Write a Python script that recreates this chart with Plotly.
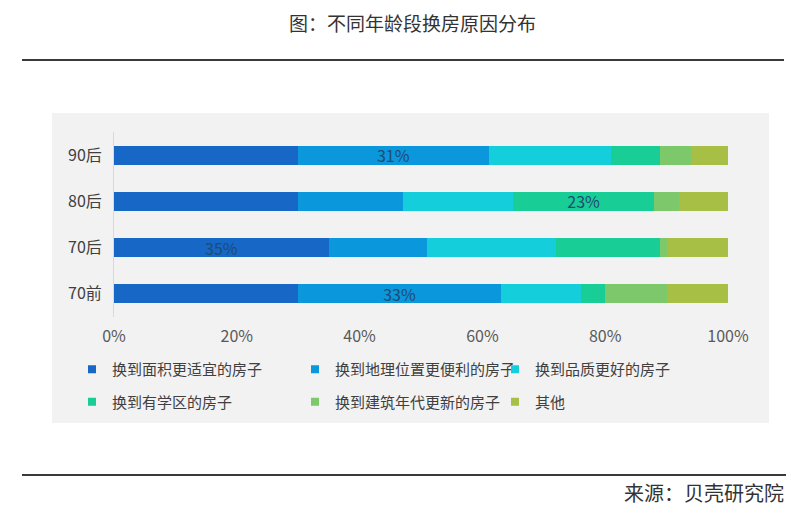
import plotly.graph_objects as go

# ---- data ----
categories = ["90后", "80后", "70后", "70前"]
series_names = [
    "换到面积更适宜的房子",
    "换到地理位置更便利的房子",
    "换到品质更好的房子",
    "换到有学区的房子",
    "换到建筑年代更新的房子",
    "其他",
]
s1 = [30, 30, 35, 30]
s2 = [31, 17, 16, 33]
s3 = [20, 18, 21, 13]
s4 = [8, 23, 17, 4]
s5 = [5, 4, 1, 10]
s6 = [6, 8, 10, 10]
series_values = [s1, s2, s3, s4, s5, s6]
# which series index carries a value label, per category
label_series = [1, 3, 0, 1]
x_ticks = [0, 20, 40, 60, 80, 100]
x_tick_text = ["0%", "20%", "40%", "60%", "80%", "100%"]

colors = ["#1667c6", "#0a97dc", "#15cedb", "#19cd97", "#7cc86a", "#a8bf45"]
FONT = "Noto Sans CJK SC, sans-serif"

# page has an 8px body margin; work in page coordinates and shift
OFF = 8
W, H = 800 - OFF, 519 - OFF
PL, PR, PT, PB = 114, 728, 132, 317   # plot area in page coordinates
ML, MT = PL - OFF, PT - OFF
MR = W - (PR - OFF)
MB = H - (PB - OFF)
PW = PR - PL
PH = PB - PT


def px(x):
    return (x - PL) / PW


def py(y):
    return (PB - y) / PH


fig = go.Figure()
for i, (name, vals) in enumerate(zip(series_names, series_values)):
    texts = [f"{v}%" if label_series[j] == i else "" for j, v in enumerate(vals)]
    fig.add_trace(go.Bar(
        y=categories, x=vals, name=name, orientation="h",
        marker=dict(color=colors[i], line=dict(width=0)),
        text=texts, textposition="inside", insidetextanchor="middle",
        textangle=0, constraintext="none",
        textfont=dict(family=FONT, size=16, color="#1f4c74"),
        showlegend=False, hoverinfo="x+name",
    ))

# legend entries (small square markers), arranged in three columns
legend_ids = ["legend", "legend2", "legend3", "legend", "legend2", "legend3"]
for i, name in enumerate(series_names):
    fig.add_trace(go.Scatter(
        x=[None], y=[None], mode="markers", name=name,
        marker=dict(symbol="square", size=8, color=colors[i]),
        legend=legend_ids[i], legendgroup=f"g{i}", showlegend=True,
    ))

leg_common = dict(
    orientation="v", traceorder="grouped", tracegroupgap=10,
    font=dict(family=FONT, size=15, color="#404040"),
    bgcolor="rgba(0,0,0,0)", borderwidth=0, itemwidth=30,
    xanchor="left", yanchor="top",
)
leg_top = 353
fig.update_layout(
    legend=dict(x=px(72), y=py(leg_top), **leg_common),
    legend2=dict(x=px(295), y=py(leg_top), **leg_common),
    legend3=dict(x=px(495), y=py(leg_top), **leg_common),
)

fig.update_layout(
    width=W, height=H,
    margin=dict(l=ML, r=MR, t=MT, b=MB, pad=0),
    barmode="stack", bargap=0.59,
    paper_bgcolor="white", plot_bgcolor="rgba(0,0,0,0)",
    font=dict(family=FONT, color="#404040"),
    xaxis=dict(
        range=[0, 100], tickmode="array", tickvals=x_ticks, ticktext=x_tick_text,
        showgrid=False, zeroline=False, showline=False, ticks="",
        tickfont=dict(family=FONT, size=16, color="#595959"),
        ticklabelstandoff=8, fixedrange=True,
    ),
    yaxis=dict(
        categoryorder="array", categoryarray=categories, autorange="reversed",
        showgrid=False, zeroline=False, showline=True, linecolor="#d9d9d9",
        linewidth=1, ticks="", tickfont=dict(family=FONT, size=16, color="#404040"),
        ticklabelstandoff=8, fixedrange=True,
    ),
    showlegend=True,
)

shapes = [
    # grey chart panel
    dict(type="rect", xref="paper", yref="paper", x0=px(52), x1=px(769),
         y0=py(423), y1=py(113), fillcolor="#f2f2f2", line=dict(width=0), layer="below"),
    # top rule
    dict(type="line", xref="paper", yref="paper", x0=px(22), x1=px(784),
         y0=py(60), y1=py(60), line=dict(color="#3a3a3a", width=2)),
    # bottom rule
    dict(type="line", xref="paper", yref="paper", x0=px(22), x1=px(786),
         y0=py(475), y1=py(475), line=dict(color="#3a3a3a", width=2)),
]
fig.update_layout(shapes=shapes)

fig.add_annotation(
    text="图：不同年龄段换房原因分布", xref="paper", yref="paper",
    x=px(412), y=py(22), xanchor="center", yanchor="middle", showarrow=False,
    font=dict(family=FONT, size=19, color="#333333"),
)
fig.add_annotation(
    text="来源：贝壳研究院", xref="paper", yref="paper",
    x=px(786), y=py(492), xanchor="right", yanchor="middle", showarrow=False,
    font=dict(family=FONT, size=20, color="#333333"),
)

fig.write_html("out.html")
